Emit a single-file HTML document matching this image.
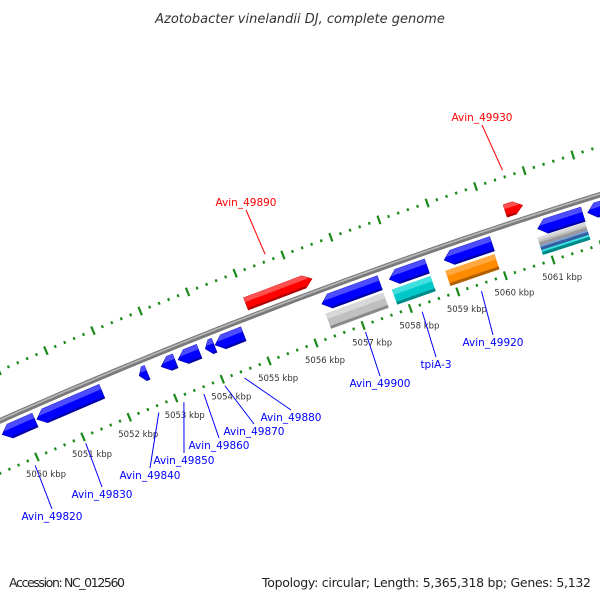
<!DOCTYPE html>
<html><head><meta charset="utf-8"><style>
body{margin:0;background:#fff;}
svg{display:block;font-family:"DejaVu Sans","Liberation Sans",sans-serif;}
</style></head><body>
<svg id="map" width="600" height="600" viewBox="0 0 600 600" xmlns="http://www.w3.org/2000/svg">
<rect width="600" height="600" fill="#fff"/>
<text x="300" y="23" text-anchor="middle" font-size="13" font-style="italic" fill="#333">Azotobacter vinelandii DJ, complete genome</text>
<text x="9" y="587" font-size="12.5" fill="#222" textLength="116">Accession: NC_012560</text>
<text x="591" y="587" text-anchor="end" font-size="12.5" fill="#222" textLength="329">Topology: circular; Length: 5,365,318 bp; Genes: 5,132</text>
<g id="plot"></g>
</svg>
<script>
// ---- data ----
const tickLabels = [5050,5051,5052,5053,5054,5055,5056,5057,5058,5059,5060,5061];
const reverseGeneStarts = [5049.55,5050.30,5052.50,5052.97,5053.33,5053.91,5054.12,5056.38,5057.80,5058.95,5060.90,5061.94];
const reverseGeneEnds   = [5050.26,5051.70,5052.67,5053.27,5053.78,5054.10,5054.72,5057.60,5058.59,5059.95,5061.84,5062.60];
const forwardGeneStarts = [5054.98,5060.40];
const forwardGeneEnds   = [5056.37,5060.76];
const cogStarts = [5056.38,5057.78,5058.90,5060.84];
const cogEnds   = [5057.60,5058.59,5059.93,5061.83];
const cogColors = ["#c0c0c0","#00c8c8","#ff8c00","multi"];
const labelNames = ["Avin_49820","Avin_49830","Avin_49840","Avin_49850","Avin_49860","Avin_49870","Avin_49880","Avin_49890","Avin_49900","tpiA-3","Avin_49920","Avin_49930"];
const labelKbp = [5049.9,5051.0,5052.58,5053.12,5053.55,5054.0,5054.42,5055.68,5057.0,5058.2,5059.45,5060.6];
const labelStrand = ["r","r","r","r","r","r","r","f","r","r","r","f"];
const labelX = [52,102,150,184,219,254,291,246,380,436,493,482];
const labelY = [520,498,479,464,449,435,421,206,387,368,346,121];

// ---- geometry ----
const NS="http://www.w3.org/2000/svg";
const plot=document.getElementById('plot');
const CX=2229, CY=5427, R=5480;
function ang(k){return (246.2+0.53*(k-5050))*Math.PI/180;}
function pt(k,r){const a=ang(k);return [CX+r*Math.cos(a), CY+r*Math.sin(a)];}
function mk(tag,attrs){const e=document.createElementNS(NS,tag);for(const k in attrs)e.setAttribute(k,attrs[k]);plot.appendChild(e);return e;}
function P(a){return a.map(p=>p[0].toFixed(2)+','+p[1].toFixed(2)).join(' ');}

// backbone
let bb=[];for(let k=5047;k<=5064;k+=0.5)bb.push(pt(k,R));
let e=mk('polyline',{points:P(bb),fill:'none',stroke:'#7a7a7a','stroke-width':5.5});


e=mk('polyline',{points:P(bb.map((p,i)=>pt(5047+i*0.5,R+0.8))),fill:'none',stroke:'#b8b8b8','stroke-width':1.6});



// rulers
[R-48,R+46].forEach((rr,ri)=>{
  for(let i=0;i<=80;i++){
    const k=5048+i*0.2;
    const major=(i%5===0);
    const half=major?4.5:1.4;
    const a=pt(k,rr-half), b=pt(k,rr+half);
    const t=mk('line',{x1:a[0],y1:a[1],x2:b[0],y2:b[1],stroke:'#1a8a1a','stroke-width':major?2.2:2.2});
    
    
  }
});
tickLabels.forEach(k=>{
  const p=pt(k,R-48);
  const t=mk('text',{x:p[0]-11,y:p[1]+20,'font-size':8.5,fill:'#333'});
  t.textContent=k+' kbp';
  
  
});

// arrow feature
function arrow(s,en,r0,r1,dir,fill,light,dark,name){
  const head=Math.min(0.17,(en-s)*0.6);
  let pts;
  const rm=(r0+r1)/2;
  if(dir<0){pts=[pt(s,rm),pt(s+head,r1),pt(en,r1),pt(en,r0),pt(s+head,r0)];}
  else{pts=[pt(s,r0),pt(en-head,r0),pt(en,rm),pt(en-head,r1),pt(s,r1)];}
  const g=mk('polygon',{points:P(pts),fill:fill,stroke:dark,'stroke-width':0.6});
  
  
  // highlight band on outer side
  const ro=r1, ri=r1-(r1-r0)*0.35;
  let hp;
  if(dir<0){hp=[pt(s+head*0.35,ri+ (r1-ri)*0.0),pt(s+head,r1),pt(en,r1),pt(en,ri)];}
  else{hp=[pt(s,ri),pt(en-head*0.35,ri),pt(en-head,r1),pt(s,r1)];}
  const h=mk('polygon',{points:P(hp),fill:light});
  
  
  const lo=[pt(dir<0?s+head:s,r0+1),pt(dir<0?en:en-head,r0+1)];
  const d=mk('line',{x1:lo[0][0],y1:lo[0][1],x2:lo[1][0],y2:lo[1][1],stroke:dark,'stroke-width':2});
  
  
}
reverseGeneStarts.forEach((s,i)=>arrow(s,reverseGeneEnds[i],R-21,R-6,-1,'#0000ff','#4d4dff','#0000a8','reverse-gene-'+i));
forwardGeneStarts.forEach((s,i)=>arrow(s,forwardGeneEnds[i],R+7,R+20,1,'#ff0000','#ff5050','#b00000','forward-gene-'+i));

// COG boxes
function box(s,en,r0,r1,fill,light,dark,name){
  const g=mk('polygon',{points:P([pt(s,r0),pt(en,r0),pt(en,r1),pt(s,r1)]),fill:fill});
  
  
  const h=mk('polygon',{points:P([pt(s,r1-(r1-r0)*0.35),pt(en,r1-(r1-r0)*0.35),pt(en,r1),pt(s,r1)]),fill:light});
  
  
  const d=mk('polygon',{points:P([pt(s,r0),pt(en,r0),pt(en,r0+3),pt(s,r0+3)]),fill:dark});
  
  
}
const cogShades={"#c0c0c0":["#d8d8d8","#8a8a8a"],"#00c8c8":["#40e0e0","#008888"],"#ff8c00":["#ffa840","#b06000"]};
cogStarts.forEach((s,i)=>{
  const c=cogColors[i];
  if(c==='multi'){
    box(s,cogEnds[i],R-30,R-22,'#c0c0c0','#d8d8d8','#9a9a9a','cog-box-'+i+'-a');
    box(s,cogEnds[i],R-35,R-30,'#5080c0','#80a0d0','#3060a0','cog-box-'+i+'-b');
    box(s,cogEnds[i],R-40,R-35,'#00c8c8','#40e0e0','#008888','cog-box-'+i+'-c');
  } else box(s,cogEnds[i],R-40,R-24,c,cogShades[c][0],cogShades[c][1],'cog-box-'+i);
});

// labels
labelNames.forEach((n,i)=>{
  const f=labelStrand[i]==='f';
  const col=f?'#ff0000':'#0000ff';
  const st=pt(labelKbp[i], f?R+53:R-55);
  const l=mk('line',{x1:st[0],y1:st[1],x2:labelX[i],y2:f?labelY[i]+4:labelY[i]-11,stroke:col,'stroke-width':1});
  
  
  const t=mk('text',{x:labelX[i],y:labelY[i],'text-anchor':'middle','font-size':10.5,fill:col});
  t.textContent=n;
  
  
});
</script>
</body></html>
